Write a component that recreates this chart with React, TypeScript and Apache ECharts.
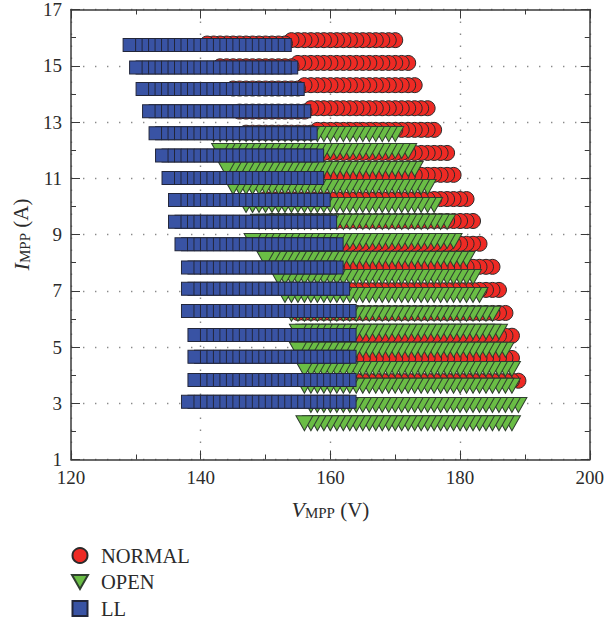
import React, { useEffect, useRef } from "react";
import * as echarts from "echarts";

const xTicks = [120, 140, 160, 180, 200];
const yTicks = [1, 3, 5, 7, 9, 11, 13, 15, 17];
const seriesNames = ["NORMAL", "OPEN", "LL"];

// The five top red rows sag a little at their left end, so each is read as two runs.
const normalCurrents = [15.91, 15.79, 15.1, 14.98, 14.31, 14.19, 13.49, 13.37, 12.72, 12.62, 11.9, 11.12, 10.26, 9.48, 8.67, 7.85, 7.03, 6.21, 5.4, 4.61, 3.8];
const normalVoltages = [
  [154,155,156,157,158,159,160,161,162,163,164,165,166,167,168,169,170],
  [141,142,143,144,145,146,147,148,149,150,151,152,153],
  [155,156,157,158,159,160,161,162,163,164,165,166,167,168,169,170,171,172],
  [143,144,145,146,147,148,149,150,151,152,153,154],
  [156,157,158,159,160,161,162,163,164,165,166,167,168,169,170,171,172,173],
  [145,146,147,148,149,150,151,152,153,154,155],
  [157,158,159,160,161,162,163,164,165,166,167,168,169,170,171,172,173,174,175],
  [146,147,148,149,150,151,152,153,154,155,156],
  [158,159,160,161,162,163,164,165,166,167,168,169,170,171,172,173,174,175,176],
  [147,148,149,150,151,152,153,154,155,156,157],
  [148,149,150,151,152,153,154,155,156,157,158,159,160,161,162,163,164,165,166,167,168,169,170,171,172,173,174,175,176,177,178],
  [149,150,151,152,153,154,155,156,157,158,159,160,161,162,163,164,165,166,167,168,169,170,171,172,173,174,175,176,177,178,179],
  [150,151,152,153,154,155,156,157,158,159,160,161,162,163,164,165,166,167,168,169,170,171,172,173,174,175,176,177,178,179,180,181],
  [151,152,153,154,155,156,157,158,159,160,161,162,163,164,165,166,167,168,169,170,171,172,173,174,175,176,177,178,179,180,181,182],
  [152,153,154,155,156,157,158,159,160,161,162,163,164,165,166,167,168,169,170,171,172,173,174,175,176,177,178,179,180,181,182,183],
  [153,154,155,156,157,158,159,160,161,162,163,164,165,166,167,168,169,170,171,172,173,174,175,176,177,178,179,180,181,182,183,184,185],
  [154,155,156,157,158,159,160,161,162,163,164,165,166,167,168,169,170,171,172,173,174,175,176,177,178,179,180,181,182,183,184,185,186],
  [155,156,157,158,159,160,161,162,163,164,165,166,167,168,169,170,171,172,173,174,175,176,177,178,179,180,181,182,183,184,185,186,187],
  [155,156,157,158,159,160,161,162,163,164,165,166,167,168,169,170,171,172,173,174,175,176,177,178,179,180,181,182,183,184,185,186,187,188],
  [156,157,158,159,160,161,162,163,164,165,166,167,168,169,170,171,172,173,174,175,176,177,178,179,180,181,182,183,184,185,186,187,188],
  [157,158,159,160,161,162,163,164,165,166,167,168,169,170,171,172,173,174,175,176,177,178,179,180,181,182,183,184,185,186,187,188,189],
];

const openCurrents = [2.29, 2.94, 3.62, 4.22, 4.9, 5.54, 6.18, 6.85, 7.49, 8.13, 8.77, 9.45, 10.05, 10.69, 11.33, 11.97, 12.57];
const openVoltages = [
  [156,157,158,159,160,161,162,163,164,165,166,167,168,169,170,171,172,173,174,175,176,177,178,179,180,181,182,183,184,185,186,187,188],
  [157,158,159,160,161,162,163,164,165,166,167,168,169,170,171,172,173,174,175,176,177,178,179,180,181,182,183,184,185,186,187,188,189],
  [156,157,158,159,160,161,162,163,164,165,166,167,168,169,170,171,172,173,174,175,176,177,178,179,180,181,182,183,184,185,186,187,188],
  [156,157,158,159,160,161,162,163,164,165,166,167,168,169,170,171,172,173,174,175,176,177,178,179,180,181,182,183,184,185,186,187,188],
  [155,156,157,158,159,160,161,162,163,164,165,166,167,168,169,170,171,172,173,174,175,176,177,178,179,180,181,182,183,184,185,186,187],
  [155,156,157,158,159,160,161,162,163,164,165,166,167,168,169,170,171,172,173,174,175,176,177,178,179,180,181,182,183,184,185,186],
  [154,155,156,157,158,159,160,161,162,163,164,165,166,167,168,169,170,171,172,173,174,175,176,177,178,179,180,181,182,183,184,185],
  [153,154,155,156,157,158,159,160,161,162,163,164,165,166,167,168,169,170,171,172,173,174,175,176,177,178,179,180,181,182,183],
  [152,153,154,155,156,157,158,159,160,161,162,163,164,165,166,167,168,169,170,171,172,173,174,175,176,177,178,179,180,181,182],
  [150,151,152,153,154,155,156,157,158,159,160,161,162,163,164,165,166,167,168,169,170,171,172,173,174,175,176,177,178,179,180,181],
  [148,149,150,151,152,153,154,155,156,157,158,159,160,161,162,163,164,165,166,167,168,169,170,171,172,173,174,175,176,177,178,179],
  [149,150,151,152,153,154,155,156,157,158,159,160,161,162,163,164,165,166,167,168,169,170,171,172,173,174,175,176,177,178],
  [147,148,149,150,151,152,153,154,155,156,157,158,159,160,161,162,163,164,165,166,167,168,169,170,171,172,173,174,175,176],
  [145,146,147,148,149,150,151,152,153,154,155,156,157,158,159,160,161,162,163,164,165,166,167,168,169,170,171,172,173,174,175],
  [144,145,146,147,148,149,150,151,152,153,154,155,156,157,158,159,160,161,162,163,164,165,166,167,168,169,170,171,172,173],
  [143,144,145,146,147,148,149,150,151,152,153,154,155,156,157,158,159,160,161,162,163,164,165,166,167,168,169,170,171,172],
  [142,143,144,145,146,147,148,149,150,151,152,153,154,155,156,157,158,159,160,161,162,163,164,165,166,167,168,169,170],
];

const llCurrents = [15.74, 14.94, 14.17, 13.38, 12.6, 11.81, 11.01, 10.23, 9.45, 8.65, 7.83, 7.07, 6.28, 5.43, 4.65, 3.83, 3.05];
const llVoltages = [
  [129,130,131,132,133,134,135,136,137,138,139,140,141,142,143,144,145,146,147,148,149,150,151,152,153],
  [130,131,132,133,134,135,136,137,138,139,140,141,142,143,144,145,146,147,148,149,150,151,152,153,154],
  [131,132,133,134,135,136,137,138,139,140,141,142,143,144,145,146,147,148,149,150,151,152,153,154,155],
  [132,133,134,135,136,137,138,139,140,141,142,143,144,145,146,147,148,149,150,151,152,153,154,155,156],
  [133,134,135,136,137,138,139,140,141,142,143,144,145,146,147,148,149,150,151,152,153,154,155,156,157],
  [134,135,136,137,138,139,140,141,142,143,144,145,146,147,148,149,150,151,152,153,154,155,156,157,158],
  [135,136,137,138,139,140,141,142,143,144,145,146,147,148,149,150,151,152,153,154,155,156,157,158],
  [136,137,138,139,140,141,142,143,144,145,146,147,148,149,150,151,152,153,154,155,156,157,158,159],
  [136,137,138,139,140,141,142,143,144,145,146,147,148,149,150,151,152,153,154,155,156,157,158,159,160],
  [137,138,139,140,141,142,143,144,145,146,147,148,149,150,151,152,153,154,155,156,157,158,159,160,161],
  [138,139,140,141,142,143,144,145,146,147,148,149,150,151,152,153,154,155,156,157,158,159,160,161],
  [138,139,140,141,142,143,144,145,146,147,148,149,150,151,152,153,154,155,156,157,158,159,160,161,162],
  [138,139,140,141,142,143,144,145,146,147,148,149,150,151,152,153,154,155,156,157,158,159,160,161,162,163],
  [139,140,141,142,143,144,145,146,147,148,149,150,151,152,153,154,155,156,157,158,159,160,161,162,163],
  [139,140,141,142,143,144,145,146,147,148,149,150,151,152,153,154,155,156,157,158,159,160,161,162,163],
  [139,140,141,142,143,144,145,146,147,148,149,150,151,152,153,154,155,156,157,158,159,160,161,162,163],
  [138,139,140,141,142,143,144,145,146,147,148,149,150,151,152,153,154,155,156,157,158,159,160,161,162,163],
];

// Each row is listed left to right but painted right to left, so the leftmost mark lies on top.
const toPoints = (currents: number[], voltages: number[][]) =>
  currents.flatMap((current, row) => [...voltages[row]].reverse().map((v) => [v, current]));

const FONT = '"Liberation Serif", serif';
const INK = "#3a3a3a";
const TEXT = "#2b2b2b";

export default function App() {
  const ref = useRef<HTMLDivElement>(null);

  useEffect(() => {
    const chart = echarts.init(ref.current!, undefined, { renderer: "svg" });
    const axisLine = { show: true, onZero: false, lineStyle: { color: INK, width: 1.5 } };
    const axisTick = { show: true, inside: true, length: 9, lineStyle: { color: INK, width: 1 } };
    const minorTick = { show: true, splitNumber: 2, length: 5, lineStyle: { color: INK, width: 1 } };
    const splitLine = { show: true, lineStyle: { color: "#8a8a8a", width: 1.4, type: [1.4, 10.6] } };
    const labelStyle = { color: TEXT, fontFamily: FONT, fontSize: 19 };
    const nameRich = {
      i: { fontFamily: FONT, fontSize: 22, fontStyle: "italic", color: TEXT },
      s: { fontFamily: FONT, fontSize: 15, color: TEXT, verticalAlign: "bottom", padding: [6, 0, 0, 0] },
      u: { fontFamily: FONT, fontSize: 21, color: TEXT },
    };
    chart.setOption({
      animation: false,
      backgroundColor: "#ffffff",
      grid: { left: 71, top: 9.5, width: 520, height: 450 },
      legend: {
        show: true,
        orient: "vertical",
        left: 66,
        top: 540,
        itemWidth: 16,
        itemHeight: 15,
        itemGap: 5.5,
        textStyle: { color: TEXT, fontFamily: FONT, fontSize: 20.5, padding: [0, 0, 0, 8] },
        data: [
          { name: seriesNames[0] },
          { name: seriesNames[1], icon: "path://M0,0 L16,0 L8,14 Z" },
          { name: seriesNames[2], icon: "path://M0,0 L13,0 L13,13 L0,13 Z" },
        ],
      },
      xAxis: [
        {
          type: "value",
          min: xTicks[0],
          max: xTicks[xTicks.length - 1],
          interval: 20,
          axisLine,
          axisTick,
          minorTick,
          splitLine,
          axisLabel: { ...labelStyle, margin: 8, showMaxLabel: true },
          name: "{i|V}{s|MPP}{u| (V)}",
          nameLocation: "middle",
          nameGap: 39,
          nameTextStyle: { rich: nameRich },
        },
        {
          type: "value",
          position: "top",
          min: xTicks[0],
          max: xTicks[xTicks.length - 1],
          interval: 20,
          axisLine,
          axisTick,
          minorTick,
          splitLine: { show: false },
          axisLabel: { show: false },
        },
      ],
      yAxis: [
        {
          type: "value",
          min: yTicks[0],
          max: yTicks[yTicks.length - 1],
          interval: 2,
          axisLine,
          axisTick,
          minorTick,
          splitLine,
          axisLabel: { ...labelStyle, margin: 9 },
          name: "{i|I}{s|MPP}{u| (A)}",
          nameLocation: "middle",
          nameRotate: 90,
          nameGap: 36,
          nameTextStyle: { rich: nameRich },
        },
        {
          type: "value",
          position: "right",
          min: yTicks[0],
          max: yTicks[yTicks.length - 1],
          interval: 2,
          axisLine,
          axisTick,
          minorTick,
          splitLine: { show: false },
          axisLabel: { show: false },
        },
      ],
      series: [
        {
          name: seriesNames[0],
          type: "scatter",
          symbol: "circle",
          symbolSize: 15,
          itemStyle: { color: "#ee2a24", borderColor: "#2a2a2a", borderWidth: 1, opacity: 1 },
          data: toPoints(normalCurrents, normalVoltages),
        },
        {
          name: seriesNames[1],
          type: "scatter",
          symbol: "triangle",
          symbolRotate: 180,
          symbolSize: [17, 15],
          itemStyle: { color: "#6abd45", borderColor: "#2f3f2f", borderWidth: 1, opacity: 1 },
          data: toPoints(openCurrents, openVoltages),
        },
        {
          name: seriesNames[2],
          type: "scatter",
          symbol: "rect",
          symbolSize: [12.5, 13],
          itemStyle: { color: "#3953a4", borderColor: "#22263a", borderWidth: 1, opacity: 1 },
          data: toPoints(llCurrents, llVoltages),
        },
      ],
    });
    return () => chart.dispose();
  }, []);

  return (
    <div
      ref={ref}
      style={{ position: "absolute", left: 0, top: 0, width: 607, height: 626 }}
    />
  );
}
